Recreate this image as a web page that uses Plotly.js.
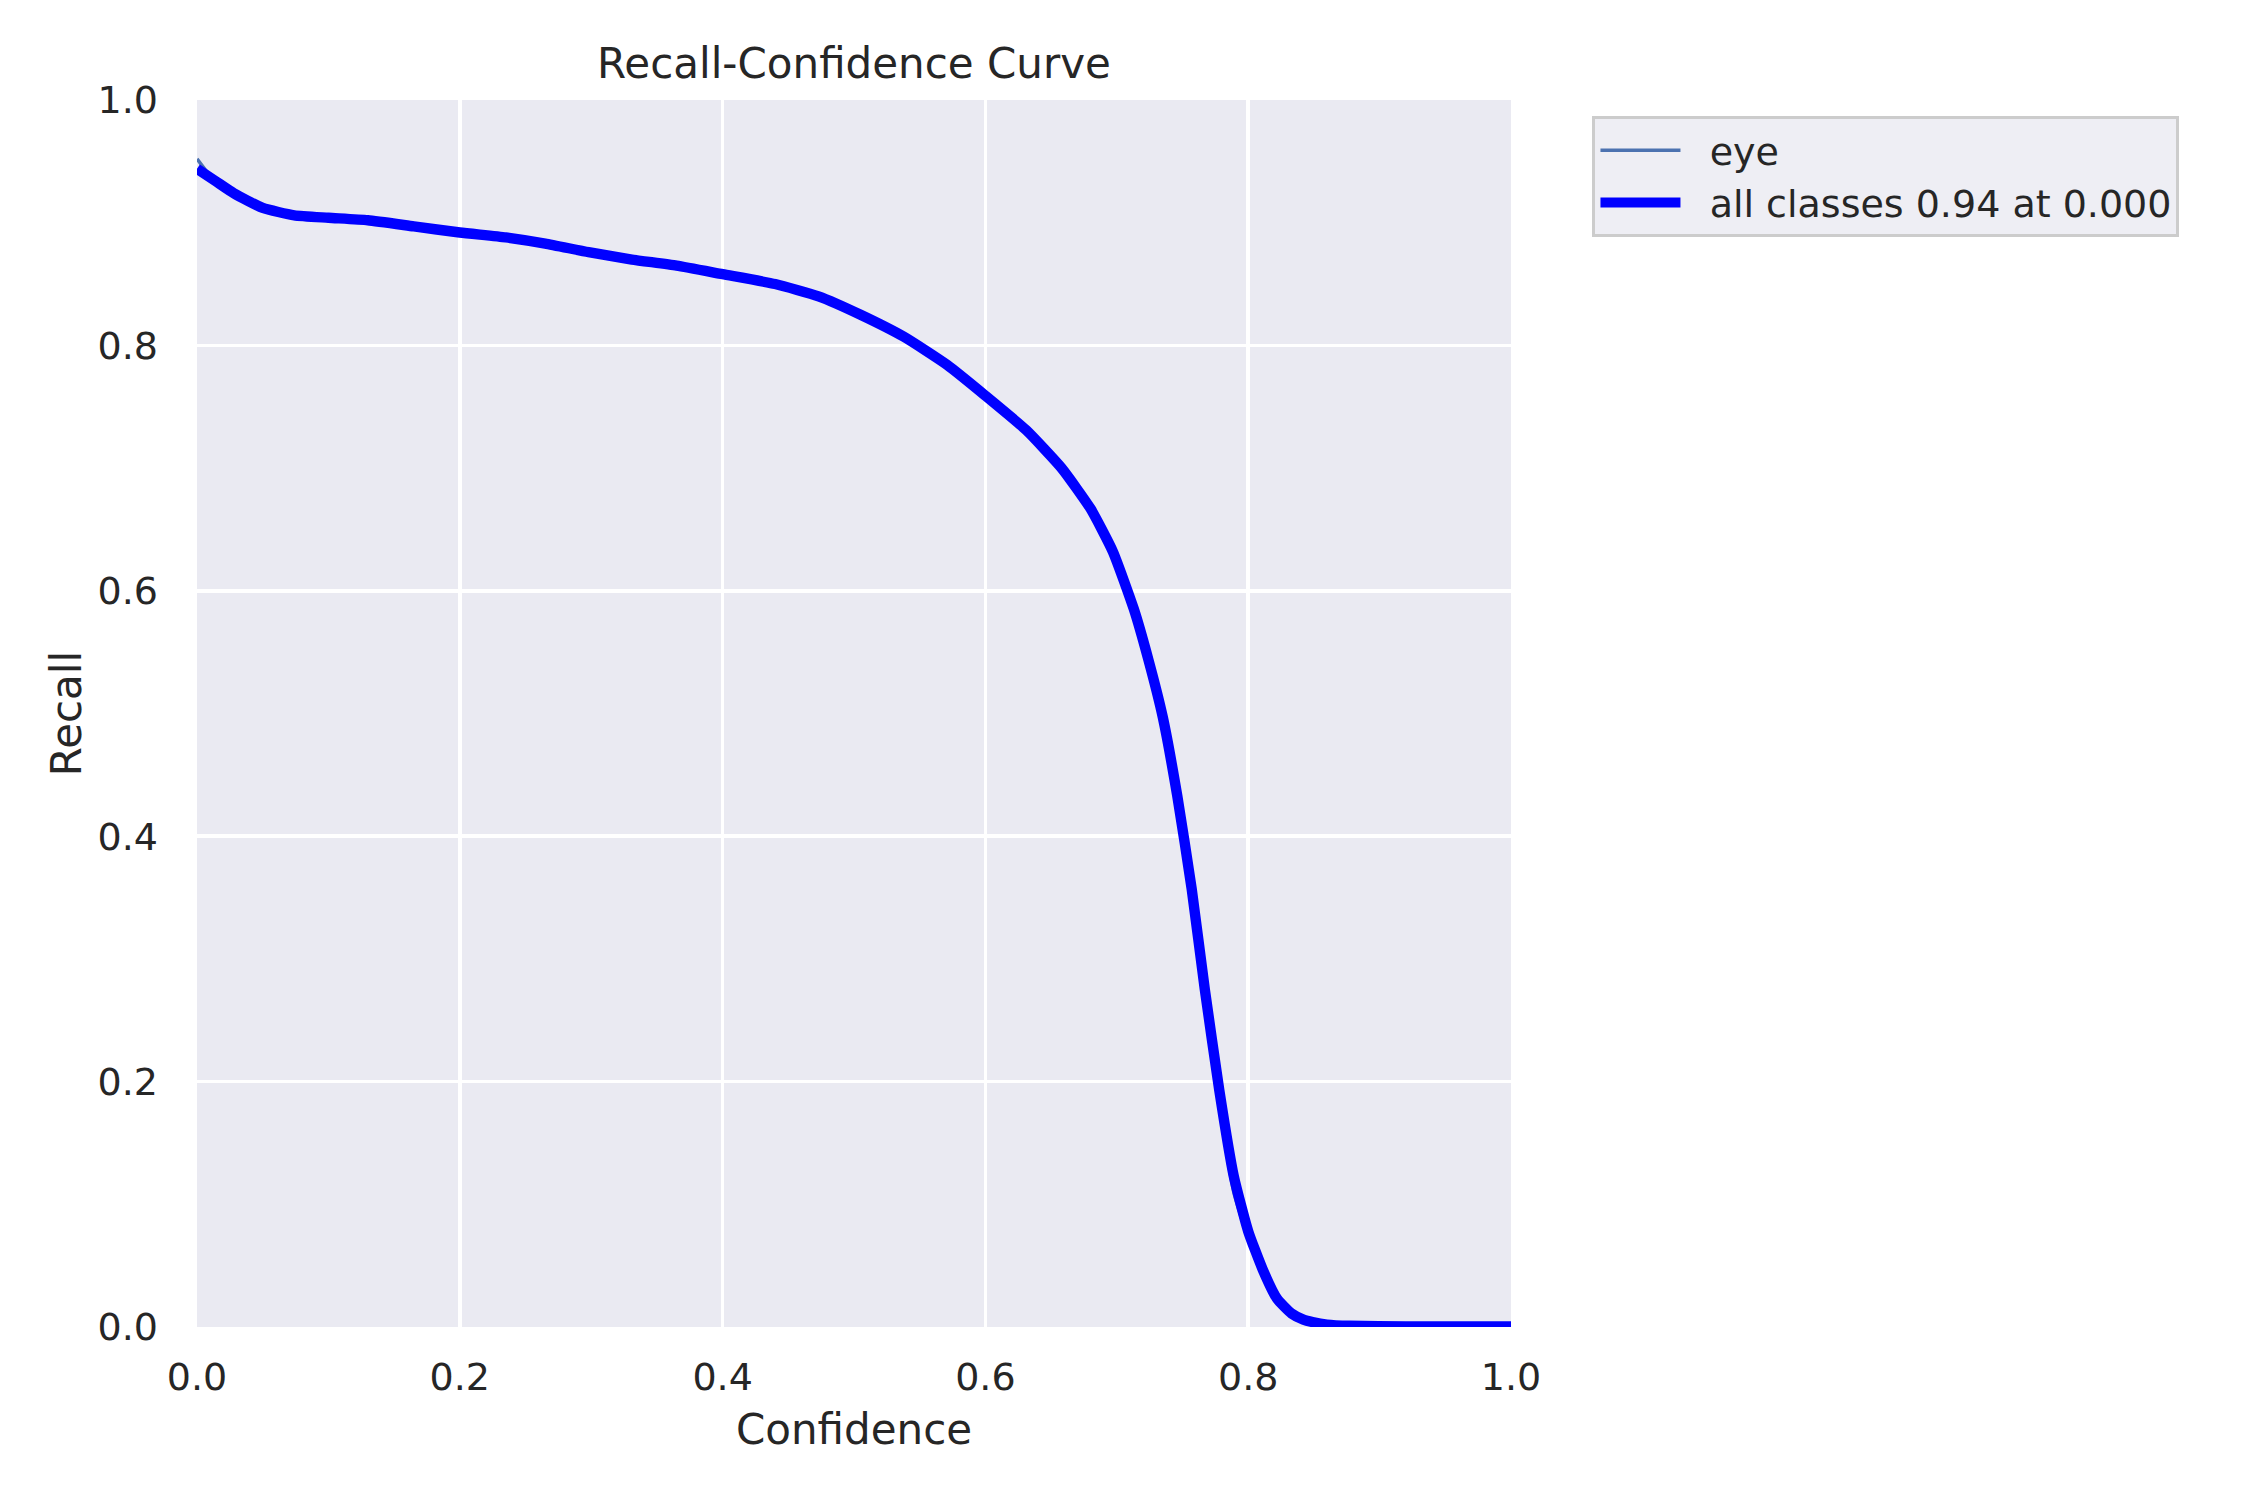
<!DOCTYPE html>
<html>
<head>
<meta charset="utf-8">
<script src="https://cdn.plot.ly/plotly-3.0.1.min.js"></script>
<style>html,body{margin:0;padding:0;background:#fff;}</style>
</head>
<body>
<div id="chart" style="width:2250px;height:1500px;"></div>
<script>
// Confidence thresholds (x)
const confidence = [0, 0.014, 0.028, 0.05, 0.074, 0.1, 0.13, 0.165, 0.2, 0.235, 0.265, 0.298, 0.331, 0.365, 0.4, 0.44, 0.473, 0.505, 0.538, 0.571, 0.6, 0.631, 0.658, 0.68, 0.697, 0.713, 0.724, 0.735, 0.746, 0.757, 0.767, 0.778, 0.789, 0.8, 0.811, 0.822, 0.833, 0.842, 0.849, 0.86, 0.877, 0.92, 1.0];
// Recall for class "eye"
const recallEye = [0.952, 0.933, 0.923, 0.911, 0.905, 0.903, 0.901, 0.896, 0.891, 0.887, 0.882, 0.875, 0.869, 0.864, 0.857, 0.849, 0.839, 0.824, 0.806, 0.783, 0.758, 0.730, 0.699, 0.666, 0.631, 0.584, 0.543, 0.494, 0.431, 0.355, 0.272, 0.180, 0.110, 0.072, 0.044, 0.021, 0.009, 0.005, 0.003, 0.002, 0.001, 0.0005, 0.0005];
// Recall for all classes
const recallAll = [0.944, 0.934, 0.924, 0.912, 0.906, 0.904, 0.902, 0.897, 0.892, 0.888, 0.883, 0.876, 0.870, 0.865, 0.858, 0.850, 0.840, 0.825, 0.807, 0.784, 0.759, 0.731, 0.700, 0.667, 0.632, 0.585, 0.544, 0.497, 0.433, 0.357, 0.275, 0.193, 0.123, 0.078, 0.047, 0.023, 0.011, 0.006, 0.004, 0.002, 0.001, 0.0005, 0.0005];

const seriesNames = ["eye", "all classes 0.94 at 0.000"];
const tickVals = [0, 0.2, 0.4, 0.6, 0.8, 1.0];
const tickText = ["0.0", "0.2", "0.4", "0.6", "0.8", "1.0"];

const FONT = "DejaVu Sans, sans-serif";
const TXT = "#262626";
const GAP = "\u00A0\u00A0";

const traces = [
  {x: confidence, y: recallEye, type: "scatter", mode: "lines", name: GAP + seriesNames[0],
   line: {color: "#4C72B0", width: 3.5, shape: "spline", smoothing: 0.5}},
  {x: confidence, y: recallAll, type: "scatter", mode: "lines", name: GAP + seriesNames[1],
   line: {color: "#0000FF", width: 10.4, shape: "spline", smoothing: 0.5}}
];

const axisCommon = {
  range: [0, 1], tickvals: tickVals, ticktext: tickText,
  showgrid: true, gridcolor: "#FFFFFF", gridwidth: 3.5,
  zeroline: false, showline: false, ticks: "",
  tickfont: {family: FONT, size: 38, color: TXT},
  fixedrange: true
};

const layout = {
  width: 2250, height: 1500,
  paper_bgcolor: "#FFFFFF", plot_bgcolor: "#EAEAF2",
  margin: {l: 197, r: 739, t: 100, b: 173, pad: 0},
  font: {family: FONT, color: TXT},
  title: {text: "Recall-Confidence Curve", font: {family: FONT, size: 42, color: TXT},
          xref: "paper", x: 0.5, xanchor: "center", yref: "container", y: 1 - 63/1500, yanchor: "middle"},
  xaxis: Object.assign({}, axisCommon, {
    title: {text: "Confidence", font: {family: FONT, size: 42, color: TXT}, standoff: 16},
    ticklabelstandoff: 24
  }),
  yaxis: Object.assign({}, axisCommon, {
    title: {text: "Recall", font: {family: FONT, size: 42, color: TXT}, standoff: 2},
    ticklabelstandoff: 38
  }),
  showlegend: true,
  legend: {x: 1.062, y: 0.987, xanchor: "left", yanchor: "top",
           bgcolor: "#EEEEF4", bordercolor: "#CCCCCC", borderwidth: 3,
           font: {family: FONT, size: 38, color: TXT}, itemwidth: 80,
           tracegroupgap: 0}
};

Plotly.newPlot("chart", traces, layout, {displayModeBar: false, staticPlot: true});
</script>
</body>
</html>
